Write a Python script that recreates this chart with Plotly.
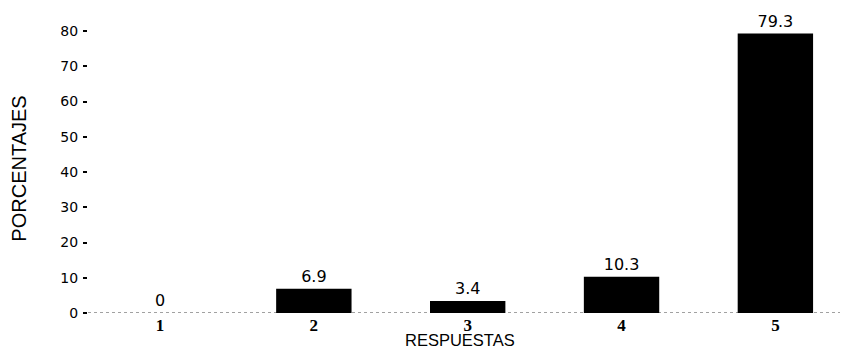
import plotly.graph_objects as go

categories = ["1", "2", "3", "4", "5"]
values = [0, 6.9, 3.4, 10.3, 79.3]
value_labels = ["0", "6.9", "3.4", "10.3", "79.3"]
y_ticks = [0, 10, 20, 30, 40, 50, 60, 70, 80]

fig = go.Figure()
fig.add_trace(go.Bar(
    x=categories, y=values, text=value_labels, textposition="outside",
    marker=dict(color="black", line=dict(width=0)), width=0.49,
    textfont=dict(family="DejaVu Sans", size=16, color="black"),
    cliponaxis=False,
))

fig.add_shape(type="line", xref="paper", yref="y", x0=0, x1=1, y0=0, y1=0,
              line=dict(color="#444", width=1.2, dash="dot"), layer="below")

fig.add_annotation(text="RESPUESTAS", xref="paper", yref="paper",
                   x=0.495, y=-0.0934, xanchor="center", yanchor="middle",
                   showarrow=False,
                   font=dict(family="Liberation Sans, Arial", size=16.5, color="black"))

fig.update_layout(
    width=848, height=342,
    margin=dict(l=80, r=16, t=16, b=37, autoexpand=False),
    paper_bgcolor="white", plot_bgcolor="white",
    showlegend=False,
    font=dict(family="Liberation Sans, Arial", color="black", size=16),
)
fig.update_xaxes(
    type="category", range=[-0.468, 4.42], showgrid=False, showline=False, zeroline=False,
    tickfont=dict(family="Liberation Serif, Times New Roman", size=17, weight="bold"),
    ticks="", ticklabelstandoff=0, automargin=False,
)
fig.update_yaxes(
    range=[0, 82], showgrid=False, showline=False, zeroline=False,
    tickvals=y_ticks, ticks="outside", ticklen=4, tickwidth=1.5, tickcolor="black",
    tickfont=dict(family="DejaVu Sans", size=14), automargin=False, ticklabelstandoff=2,
    title=dict(text="PORCENTAJES", font=dict(family="Liberation Sans, Arial", size=20),
               standoff=30),
)

fig.write_html("out.html")
